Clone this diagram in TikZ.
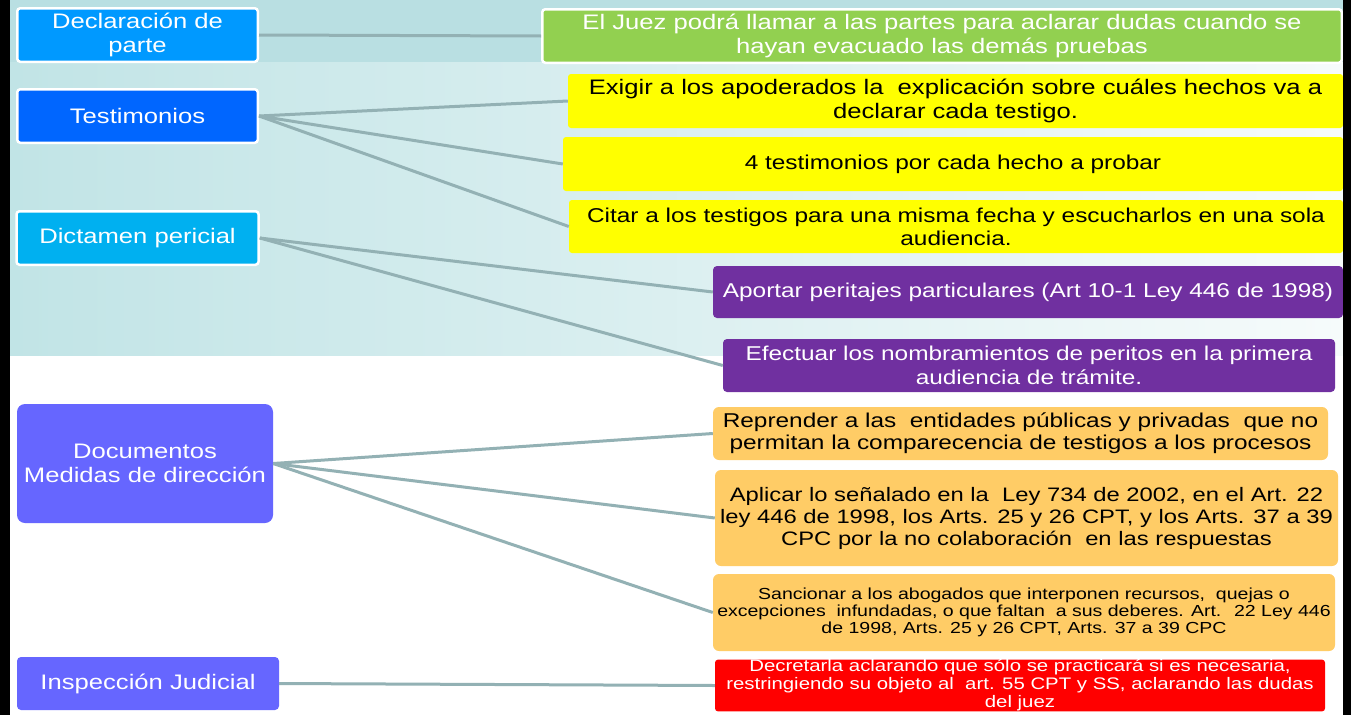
\documentclass[tikz,border=0pt]{standalone}
\usepackage{fontspec}
\setmainfont[FakeStretch=1.22]{Liberation Sans}
\definecolor{linec}{HTML}{93B1B4}
\definecolor{bandc}{HTML}{B9DFE2}
\definecolor{gradl}{HTML}{C1E4E6}
\definecolor{gradr}{HTML}{F6FBFB}
\definecolor{cdecl}{HTML}{0099FF}
\definecolor{ctest}{HTML}{0066FF}
\definecolor{cdict}{HTML}{00B0F0}
\definecolor{cdoc}{HTML}{6666FF}
\definecolor{cgreen}{HTML}{92D050}
\definecolor{cyel}{HTML}{FFFF00}
\definecolor{cpur}{HTML}{7030A0}
\definecolor{corg}{HTML}{FFCC66}
\definecolor{cred}{HTML}{FF0000}
\begin{document}
\begin{tikzpicture}[x=1pt,y=-1pt,
  box/.style={rectangle, align=center, inner sep=0pt, rounded corners=3pt},
  lbox/.style={box, draw=white, line width=2.5pt, text=white, font=\fontsize{21}{24}\selectfont},
  dbox/.style={box, rounded corners=8pt, fill=cdoc, text=white},
  gbox/.style={box, fill=cgreen, draw=white, line width=2.5pt, text=white, font=\fontsize{21}{24}\selectfont},
  ybox/.style={box, fill=cyel, text=black},
  pbox/.style={box, rounded corners=4pt, fill=cpur, text=white, font=\fontsize{20}{24}\selectfont},
  obox/.style={box, rounded corners=6pt, fill=corg, text=black},
  rbox/.style={box, fill=cred, text=white, font=\fontsize{16.7}{18}\selectfont},
  conn/.style={draw=linec, line width=3pt}
]
\useasboundingbox (0,0) rectangle (1351,715);
% background
\fill[white] (0,0) rectangle (1351,715);
\shade[left color=gradl, right color=gradr] (10,62) rectangle (1343,355);
\fill[bandc] (10,0) rectangle (1343,62);

% left boxes
\node[lbox, fill=cdecl, minimum width=240.5pt, minimum height=53.5pt] (decl) at (137.5,35) {Declaración de\\parte};
\node[lbox, fill=ctest, minimum width=240.5pt, minimum height=53.5pt] (test) at (137.5,116) {Testimonios};
\node[lbox, fill=cdict, minimum width=242pt, minimum height=53.5pt] (dict) at (137.5,238) {Dictamen pericial};
\node[dbox, font=\fontsize{21}{24}\selectfont, minimum width=256pt, minimum height=119pt] (doc) at (145,463.5) {Documentos\\Medidas de dirección};
\node[dbox, rounded corners=4pt, font=\fontsize{21}{24}\selectfont, minimum width=262pt, minimum height=53pt] (insp) at (148,683.5) {Inspección Judicial};

% right boxes
\node[gbox, minimum width=799.5pt, minimum height=53.5pt] (green) at (942,36) {El Juez podrá llamar a las partes para aclarar dudas cuando se\\hayan evacuado las demás pruebas};
\node[ybox, font=\fontsize{21}{24}\selectfont, minimum width=775pt, minimum height=54pt] (y1) at (955.5,101) {Exigir a los apoderados la~ explicación sobre cuáles hechos va a\\declarar cada testigo.};
\node[ybox, font=\fontsize{20}{23}\selectfont, minimum width=780pt, minimum height=54pt] (y2) at (953,164) {4 testimonios por cada hecho a probar};
\node[ybox, font=\fontsize{20}{23}\selectfont, minimum width=774pt, minimum height=53pt] (y3) at (956,226.5) {Citar a los testigos para una misma fecha y escucharlos en una sola\\audiencia.};
\node[pbox, minimum width=630pt, minimum height=52pt] (p1) at (1028,292) {Aportar peritajes particulares (Art 10-1 Ley 446 de 1998)};
\node[pbox, minimum width=612pt, minimum height=53pt] (p2) at (1029,365.5) {Efectuar los nombramientos de peritos en la primera\\audiencia de trámite.};
\node[obox, font=\fontsize{20}{22}\selectfont, minimum width=615pt, minimum height=53pt] (o1) at (1020.5,433.5) {Reprender a las~ entidades públicas y privadas~ que no\\permitan la comparecencia de testigos a los procesos};
\node[obox, font=\fontsize{19.5}{22}\selectfont, minimum width=623pt, minimum height=96pt] (o2) at (1026.5,518) {Aplicar lo señalado en la~ Ley 734 de 2002, en el Art. 22\\ley 446 de 1998, los Arts. 25 y 26 CPT, y los Arts. 37 a 39\\CPC por la no colaboración~ en las respuestas};
\node[obox, font=\fontsize{16}{17}\selectfont, minimum width=622pt, minimum height=77pt] (o3) at (1024,612.5) {Sancionar a los abogados que interponen recursos,~ quejas o\\excepciones~ infundadas, o que faltan~ a sus deberes. Art.~ 22 Ley 446\\de 1998, Arts. 25 y 26 CPT, Arts. 37 a 39 CPC};
\node[rbox, minimum width=610pt, minimum height=51pt] (red) at (1020,685.5) {Decretarla aclarando que sólo se practicará si es necesaria,\\restringiendo su objeto al~ art. 55 CPT y SS, aclarando las dudas\\del juez};

% connectors
\draw[conn] (decl.east) -- (green.west);
\draw[conn] (test.east) -- (y1.west);
\draw[conn] (test.east) -- (y2.west);
\draw[conn] (test.east) -- (y3.west);
\draw[conn] (dict.east) -- (p1.west);
\draw[conn] (dict.east) -- (p2.west);
\draw[conn] (doc.east) -- (o1.west);
\draw[conn] (doc.east) -- (o2.west);
\draw[conn] (doc.east) -- (o3.west);
\draw[conn] (insp.east) -- (red.west);

% side strips
\fill[black] (0,0) rectangle (10,715);
\fill[black] (1343,0) rectangle (1351,715);
\end{tikzpicture}
\end{document}
